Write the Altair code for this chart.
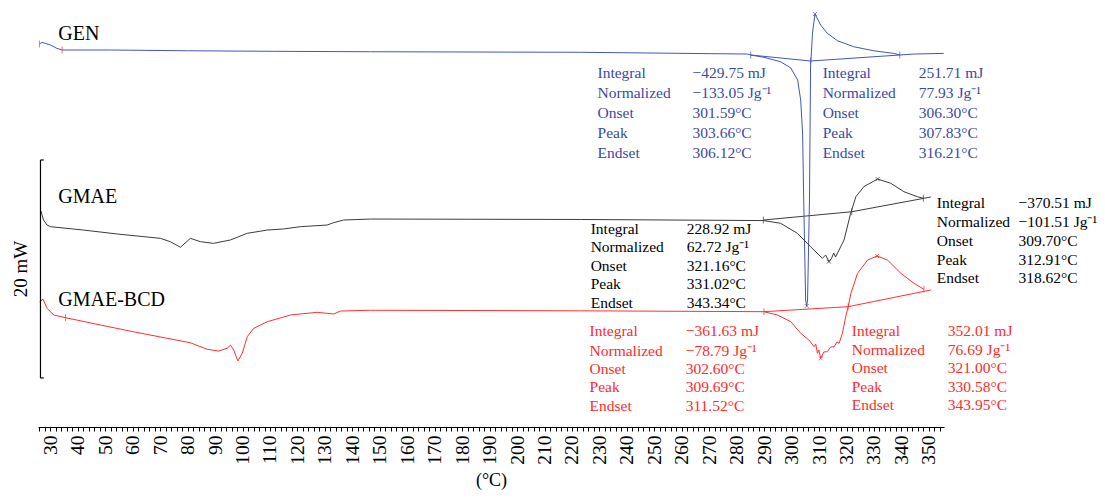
import altair as alt
import pandas as pd

# ---------------- data (temperature in °C, heat flow in mW, curves offset) -------------
gen_T = [26.0, 27.0, 30.0, 32.4, 34.3, 51.9, 79.9, 111.3, 146.6, 223.1, 284.0, 285.1, 289.9,
         296.0, 299.7, 302.2, 303.3, 304.0, 304.4, 305.1, 305.5, 305.8, 306.5, 306.9, 307.6,
         308.5, 310.6, 313.0, 316.7, 322.6, 329.9, 337.2, 339.4, 344.5, 355.4]
gen_mW = [35.14, 35.29, 35.05, 34.74, 34.59, 34.59, 34.52, 34.47, 34.43, 34.38, 34.22, 34.13,
          33.92, 33.51, 32.94, 31.83, 30.00, 26.97, 20.83, 11.65, 11.10, 11.65, 20.83, 33.03,
          36.15, 37.89, 36.88, 36.12, 35.44, 34.89, 34.52, 34.28, 34.13, 34.22, 34.28]

gmae_T = [26.6, 27.5, 28.8, 30.0, 42.1, 54.3, 70.1, 73.7, 77.4, 81.0, 84.7, 89.4, 95.6, 101.7,
          109.0, 114.9, 121.1, 130.8, 133.1, 136.8, 146.6, 223.1, 289.7, 296.0, 302.1, 306.9,
          311.2, 312.4, 313.6, 314.6, 315.3, 316.0, 317.1, 319.1, 321.5, 323.4, 326.3, 331.3,
          336.1, 340.9, 345.8, 348.0]
gmae_mW = [19.82, 18.99, 18.53, 18.38, 18.07, 17.71, 17.31, 17.00, 16.49, 17.31, 17.00, 16.85,
           17.16, 17.77, 18.07, 18.17, 18.38, 18.53, 18.74, 18.99, 19.08, 19.04, 18.94, 18.69,
           17.77, 16.54, 15.48, 15.78, 15.17, 15.50, 15.96, 15.60, 16.15, 17.16, 19.61, 21.13,
           22.05, 22.75, 22.36, 21.59, 21.13, 20.98]

bcd_T = [26.1, 27.3, 28.8, 31.2, 35.5, 48.2, 60.2, 72.5, 81.0, 87.1, 91.3, 94.4, 95.6, 96.8,
         98.3, 99.9, 101.7, 104.1, 109.0, 117.5, 127.2, 133.2, 135.7, 146.6, 223.1, 289.9,
         294.8, 299.7, 303.3, 306.3, 308.2, 308.8, 309.4, 309.9, 310.6, 311.7, 313.0, 314.2,
         315.5, 316.5, 317.3, 318.5, 319.7, 320.6, 321.6, 324.0, 327.7, 331.1, 334.9, 339.8,
         344.6, 348.2]
bcd_mW = [11.50, 11.74, 10.89, 10.28, 10.03, 9.36, 8.74, 8.14, 7.73, 7.13, 6.97, 7.22, 7.52,
          7.06, 6.06, 6.76, 8.28, 9.06, 9.66, 10.28, 10.52, 10.37, 10.64, 10.71, 10.66, 10.58,
          10.28, 9.66, 8.60, 7.98, 7.37, 7.61, 6.76, 7.06, 6.30, 6.88, 6.91, 7.34, 7.37, 7.80,
          7.68, 8.60, 10.12, 11.04, 12.27, 14.10, 15.32, 15.69, 15.32, 14.10, 13.18, 12.63]

# integration baselines
gen_base_T = [285.1, 306.9, 339.4]
gen_base_mW = [34.13, 33.58, 34.13]
gmae_base_T = [289.7, 321.9, 350.7]
gmae_base_mW = [18.99, 19.75, 21.10]
bcd_base_T = [289.9, 320.6, 350.7]
bcd_base_mW = [10.58, 11.04, 12.57]

# limit markers (|) and peak markers (x)
limit_T = [285.1, 306.9, 339.4, 289.7, 321.9, 348.0, 289.9, 320.6, 348.2, 35.5, 26.0, 34.3]
limit_mW = [34.13, 33.58, 34.13, 18.99, 19.75, 20.98, 10.58, 11.04, 12.63, 10.03, 35.14, 34.59]
limit_series = ["GEN"] * 3 + ["GMAE"] * 3 + ["GMAE-BCD"] * 6
peak_T = [305.5, 308.5, 313.6, 331.3, 310.6, 331.1]
peak_mW = [11.10, 37.89, 15.17, 22.75, 6.30, 15.69]
peak_series = ["GEN", "GEN", "GMAE", "GMAE", "GMAE-BCD", "GMAE-BCD"]

# scale bar (20 mW)
bar_T = 26.4
bar_cap_T = 27.6
bar_lo, bar_hi = 4.5, 24.5

series_names = ["GEN", "GMAE", "GMAE-BCD"]
row_names = ["Integral", "Normalized", "Onset", "Peak", "Endset"]
gen_left_vals = ["\u2212429.75 mJ", "\u2212133.05 Jg\u207b\u00b9", "301.59\u00b0C", "303.66\u00b0C", "306.12\u00b0C"]
gen_right_vals = ["251.71 mJ", "77.93 Jg\u207b\u00b9", "306.30\u00b0C", "307.83\u00b0C", "316.21\u00b0C"]
gmae_left_vals = ["228.92 mJ", "62.72 Jg\u207b\u00b9", "321.16\u00b0C", "331.02\u00b0C", "343.34\u00b0C"]
gmae_right_vals = ["\u2212370.51 mJ", "\u2212101.51 Jg\u207b\u00b9", "309.70\u00b0C", "312.91\u00b0C", "318.62\u00b0C"]
bcd_left_vals = ["\u2212361.63 mJ", "\u221278.79 Jg\u207b\u00b9", "302.60\u00b0C", "309.69\u00b0C", "311.52\u00b0C"]
bcd_right_vals = ["352.01 mJ", "76.69 Jg\u207b\u00b9", "321.00\u00b0C", "330.58\u00b0C", "343.95\u00b0C"]

# ---------------- styling / placement -------------
FONT = "Liberation Serif"
line_colors = {"GEN": "#4455bb", "GMAE": "#3c3c3c", "GMAE-BCD": "#ff3030"}
text_colors = {"GEN": "#3a49a8", "GMAE": "#000000", "GMAE-BCD": "#ff2a2a"}
X_SHAPE = "M -1 -1 L 1 1 M -1 1 L 1 -1"

# annotation blocks: (series, label x, value x, row y's, values)
blocks = [
    ("GEN", 229.3, 263.9, [32.48, 30.64, 28.81, 26.97, 25.14], gen_left_vals),
    ("GEN", 311.3, 346.3, [32.48, 30.64, 28.81, 26.97, 25.14], gen_right_vals),
    ("GMAE", 226.8, 261.8, [18.17, 16.51, 14.77, 13.12, 11.38], gmae_left_vals),
    ("GMAE", 352.9, 382.6, [20.55, 18.81, 17.06, 15.32, 13.67], gmae_right_vals),
    ("GMAE-BCD", 226.4, 261.4, [8.81, 6.97, 5.32, 3.67, 1.93], bcd_left_vals),
    ("GMAE-BCD", 321.9, 356.9, [8.81, 7.06, 5.41, 3.67, 2.02], bcd_right_vals),
]
series_label_pos = [(32.9, 36.06), (32.9, 21.10), (32.9, 11.65)]

# ---------------- tables -------------
rows = []
for name, Ts, Ms in [("GEN", gen_T, gen_mW), ("GMAE", gmae_T, gmae_mW), ("GMAE-BCD", bcd_T, bcd_mW)]:
    for i, (t, m) in enumerate(zip(Ts, Ms)):
        rows.append({"series": name, "T": t, "mW": m, "i": i})
curves = pd.DataFrame(rows)

brows = []
for name, Ts, Ms in [("GEN", gen_base_T, gen_base_mW), ("GMAE", gmae_base_T, gmae_base_mW),
                     ("GMAE-BCD", bcd_base_T, bcd_base_mW)]:
    for i, (t, m) in enumerate(zip(Ts, Ms)):
        brows.append({"series": name, "T": t, "mW": m, "i": i})
bases = pd.DataFrame(brows)

limits = pd.DataFrame({"T": limit_T, "mW": limit_mW, "series": limit_series})
peaks = pd.DataFrame({"T": peak_T, "mW": peak_mW, "series": peak_series})

trows = []
for name, lx, vx, ys, vals in blocks:
    for lab, y, v in zip(row_names, ys, vals):
        trows.append({"series": name, "T": lx, "mW": y, "text": lab})
        trows.append({"series": name, "T": vx, "mW": y, "text": v})
texts = pd.DataFrame(trows)

slabels = pd.DataFrame({"series": series_names,
                        "T": [p[0] for p in series_label_pos],
                        "mW": [p[1] for p in series_label_pos],
                        "text": series_names})

bar_df = pd.DataFrame({"T": [bar_T], "lo": [bar_lo], "hi": [bar_hi]})
caps_df = pd.DataFrame({"T": [bar_T, bar_T], "T2": [bar_cap_T, bar_cap_T], "mW": [bar_lo, bar_hi]})
bar_label = pd.DataFrame({"T": [19.2], "mW": [(bar_lo + bar_hi) / 2], "text": ["20 mW"]})

# ---------------- encodings -------------
xscale = alt.Scale(domain=[25.5, 355.5], nice=False, zero=False)
yscale = alt.Scale(domain=[0, 38.26], nice=False, zero=False)
xaxis = alt.Axis(values=list(range(26, 356, 2)),
                 labelExpr="datum.value % 10 === 0 ? datum.label : ''",
                 format="d", labelAngle=270, labelFont=FONT, labelFontSize=19.5,
                 labelColor="black", tickSize=4, tickColor="black", tickWidth=1,
                 domainColor="black", domainWidth=1, grid=False, labelFlush=False,
                 labelOverlap=False, labelPadding=4, title="(\u00b0C)", titleFont=FONT,
                 titleFontSize=18, titleFontWeight="normal", titleColor="black",
                 titleY=53, titleBaseline="middle")
X = alt.X("T:Q", scale=xscale, axis=xaxis)
Y = alt.Y("mW:Q", scale=yscale, axis=None)

lc = alt.Color("series:N", scale=alt.Scale(domain=list(line_colors), range=list(line_colors.values())), legend=None)
tc = alt.Color("series:N", scale=alt.Scale(domain=list(text_colors), range=list(text_colors.values())), legend=None)

curve_layer = alt.Chart(curves).mark_line(strokeWidth=1, clip=False).encode(
    x=X, y=Y, color=lc, detail="series:N", order="i:Q")
base_layer = alt.Chart(bases).mark_line(strokeWidth=1).encode(
    x=X, y=Y, color=lc, detail="series:N", order="i:Q")
limit_layer = alt.Chart(limits).mark_tick(orient="vertical", size=7, thickness=1).encode(
    x=X, y=Y, color=lc)
peak_layer = alt.Chart(peaks).mark_point(shape=X_SHAPE, size=16, strokeWidth=1, filled=False).encode(
    x=X, y=Y, color=lc)

text_layer = alt.Chart(texts).mark_text(align="left", baseline="middle", font=FONT, fontSize=15.5).encode(
    x=X, y=Y, text="text:N", color=tc)
slabel_layer = alt.Chart(slabels).mark_text(align="left", baseline="middle", font=FONT, fontSize=20, color="black").encode(
    x=X, y=Y, text="text:N")

bar_layer = alt.Chart(bar_df).mark_rule(color="black", strokeWidth=1.2).encode(
    x=X, y=alt.Y("lo:Q", scale=yscale, axis=None), y2="hi:Q")
caps_layer = alt.Chart(caps_df).mark_rule(color="black", strokeWidth=1.2).encode(
    x=X, x2="T2:Q", y=Y)
bar_text = alt.Chart(bar_label).mark_text(angle=270, align="center", baseline="middle", font=FONT, fontSize=19, color="black").encode(
    x=X, y=Y, text="text:N")

chart = alt.layer(
    base_layer, curve_layer, limit_layer, peak_layer, text_layer, slabel_layer,
    bar_layer, caps_layer, bar_text
).resolve_scale(color="independent").properties(
    width=906, height=417,
    padding={"left": 30, "top": 2, "right": 153, "bottom": 64},
    autosize=alt.AutoSizeParams(type="none"),
    background="white",
).configure_view(strokeWidth=0)

chart.save("out.html", embed_options={"renderer": "svg", "actions": False})
